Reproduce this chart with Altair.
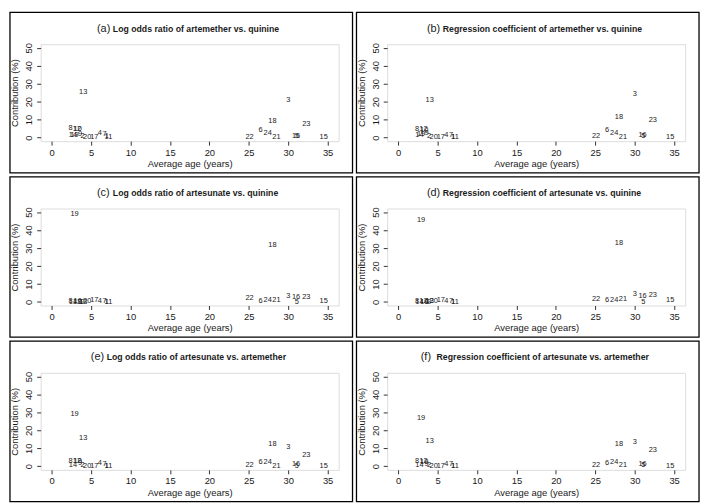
import altair as alt
import pandas as pd

# ---------------- data ----------------
studies = list(range(1, 25))
ages = [7.0, 3.9, 30.0, 6.1, 31.1, 26.5, 6.7, 2.4, 3.6, 3.3, 7.2, 3.2,
        4.0, 2.7, 34.5, 31.0, 5.4, 28.0, 2.9, 4.5, 28.5, 25.1, 32.3, 27.4]

contrib_a = [0.7, 0.8, 20.9, 2.6, 0.7, 4.4, 1.8, 5.3, 2.2, 4.6, 0.3, 5.0,
             25.6, 1.5, 0.5, 0.9, 0.3, 9.3, 1.3, 0.2, 0.5, 0.5, 7.5, 2.8]
contrib_b = [0.5, 0.7, 24.2, 1.4, 1.0, 4.0, 1.2, 5.0, 2.8, 4.2, 0.3, 4.6,
             21.0, 1.6, 0.4, 1.2, 0.3, 11.6, 1.8, 0.3, 0.5, 0.7, 10.0, 2.8]
contrib_c = [0.2, 0.2, 3.5, 0.5, 0.0, 0.5, 0.6, 0.3, 0.1, 0.3, 0.2, 0.2,
             0.2, 0.2, 0.7, 3.0, 0.9, 31.9, 49.1, 0.4, 1.2, 1.9, 3.0, 1.0]
contrib_d = [0.2, 0.2, 4.2, 0.5, 0.2, 1.0, 0.5, 0.3, 0.2, 0.2, 0.1, 0.3,
             0.3, 0.2, 1.0, 3.5, 0.9, 32.8, 45.5, 0.4, 1.4, 1.7, 3.8, 1.2]
contrib_e = [0.4, 0.6, 10.8, 1.7, 0.3, 2.3, 1.2, 3.1, 1.6, 2.7, 0.2, 3.0,
             15.9, 0.9, 0.3, 1.0, 0.3, 12.2, 29.0, 0.2, 0.3, 0.7, 6.3, 2.4]
contrib_f = [0.4, 0.6, 13.3, 1.4, 0.7, 1.9, 1.2, 3.1, 1.5, 2.6, 0.2, 3.0,
             13.8, 0.9, 0.3, 1.4, 0.3, 12.6, 27.1, 0.2, 0.5, 0.5, 9.1, 2.4]

panel_letters = ["(a)", "(b)", "(c)", "(d)", "(e)", "(f)"]
panel_titles = [
    "Log odds ratio of artemether vs. quinine",
    "Regression coefficient of artemether vs. quinine",
    "Log odds ratio of artesunate vs. quinine",
    "Regression coefficient of artesunate vs. quinine",
    "Log odds ratio of artesunate vs. artemether",
    "Regression coefficient of artesunate vs. artemether",
]
x_ticks = [0, 5, 10, 15, 20, 25, 30, 35]
y_ticks = [0, 10, 20, 30, 40, 50]
x_title = "Average age (years)"
y_title = "Contribution (%)"

contribs = [contrib_a, contrib_b, contrib_c, contrib_d, contrib_e, contrib_f]

# ---------------- layout ----------------
FONT = "Liberation Sans"
W, H = 301, 98
ML, MR, MT, MB = 31, 14, 32, 32
TITLE_FS, LETTER_FS = 8.8, 11
INK = "#1a1a1a"


def panel(i):
    df = pd.DataFrame({
        "study": [str(s) for s in studies],
        "age": ages,
        "contribution": contribs[i],
    })
    x = alt.X("age:Q",
              scale=alt.Scale(domain=[-1.4, 36.4], nice=False, zero=False),
              axis=alt.Axis(values=x_ticks, title=x_title, domain=False,
                            grid=False, tickSize=4, tickColor="#333",
                            labelColor=INK, titleColor=INK,
                            labelFont=FONT, titleFont=FONT, labelFontSize=9.5,
                            titleFontSize=9.5, titleFontWeight="normal",
                            labelPadding=2, titlePadding=2, labelFlush=False))
    y = alt.Y("contribution:Q",
              scale=alt.Scale(domain=[-2, 52], nice=False, zero=False),
              axis=alt.Axis(values=y_ticks, title=y_title, domain=False,
                            grid=False, tickSize=4, tickColor="#333",
                            labelColor=INK, titleColor=INK,
                            labelFont=FONT, titleFont=FONT, labelFontSize=9.5,
                            titleFontSize=9.5, titleFontWeight="normal",
                            labelAngle=270, labelPadding=3, titlePadding=4,
                            labelFlush=False))
    pts = alt.Chart(df).mark_text(font=FONT, fontSize=7.5, color=INK).encode(
        x=x, y=y, text="study:N")

    border = alt.Chart(pd.DataFrame({"k": [0]})).mark_rect(
        filled=False, stroke="black", strokeWidth=1.3).encode(
        x=alt.value(-ML), x2=alt.value(W + MR),
        y=alt.value(-MT), y2=alt.value(H + MB))

    rest = panel_titles[i]
    wl = 13.5
    gap = 2.5
    wr = len(rest) * 0.475 * TITLE_FS
    start = W / 2 - 2 - (wl + gap + wr) / 2
    letter = alt.Chart(pd.DataFrame({"t": [panel_letters[i]]})).mark_text(
        font=FONT, fontSize=LETTER_FS, align="left", baseline="alphabetic",
        color=INK).encode(text="t:N", x=alt.value(start), y=alt.value(-12.5))
    title = alt.Chart(pd.DataFrame({"t": [rest]})).mark_text(
        font=FONT, fontSize=TITLE_FS, fontWeight="bold", align="left",
        baseline="alphabetic", color=INK).encode(
        text="t:N", x=alt.value(start + wl + gap), y=alt.value(-12.5))

    return alt.layer(border, pts, letter, title).properties(width=W, height=H)


chart = alt.concat(*[panel(i) for i in range(6)], columns=2, spacing=0).properties(
    padding=0
).configure_view(stroke="#777", strokeWidth=1).configure(background="white")

chart.save("out.html", embed_options={"renderer": "svg", "actions": False})
